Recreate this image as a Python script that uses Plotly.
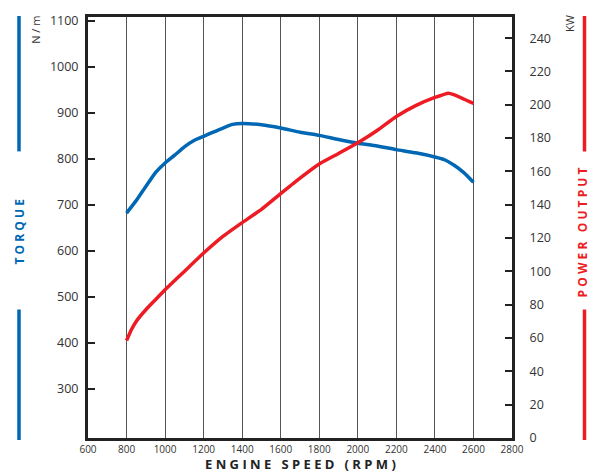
import plotly.graph_objects as go

rpm_torque = [800, 850, 900, 925, 950, 1000, 1050, 1100, 1150, 1200, 1250, 1300, 1350, 1400,
              1500, 1600, 1700, 1800, 1900, 2000, 2100, 2200, 2300, 2400, 2450, 2500, 2550, 2600]
torque_nm = [682, 709, 740, 755, 770, 791, 808, 826, 840, 849, 858, 867, 875, 877,
             874, 867, 858, 851, 842, 834, 828, 820, 813, 804, 798, 786, 770, 749]

rpm_power = [800, 825, 850, 900, 950, 1000, 1100, 1200, 1300, 1400, 1500, 1600, 1700,
             1800, 1900, 2000, 2100, 2200, 2300, 2400, 2470, 2500, 2600]
power_kw = [58.5, 65, 70, 77, 83, 89, 100, 111, 121, 129.3, 137.2, 146.7, 156,
            164.5, 170.8, 177.2, 184.6, 193, 199.5, 204.4, 207, 206, 200.9]

x_ticks = [600, 800, 1000, 1200, 1400, 1600, 1800, 2000, 2200, 2400, 2600, 2800]
torque_ticks = [300, 400, 500, 600, 700, 800, 900, 1000, 1100]
power_ticks = [0, 20, 40, 60, 80, 100, 120, 140, 160, 180, 200, 220, 240]

BLUE = "#0067b4"
RED = "#ed1c24"
FONT = "Open Sans"

fig = go.Figure()
fig.add_trace(go.Scatter(x=rpm_torque, y=torque_nm, mode="lines",
                         line=dict(color=BLUE, width=3.5, shape="spline", smoothing=0.5),
                         yaxis="y", showlegend=False))
fig.add_trace(go.Scatter(x=rpm_power, y=power_kw, mode="lines",
                         line=dict(color=RED, width=3.5, shape="spline", smoothing=0.5),
                         yaxis="y2", showlegend=False))

fig.update_layout(
    width=592, height=472,
    margin=dict(l=88, r=80, t=12, b=34),
    paper_bgcolor="white", plot_bgcolor="white",
    font=dict(family=FONT, color="#333333"),
    xaxis=dict(range=[600, 2800], tickvals=x_ticks, ticktext=[str(v) for v in x_ticks],
               showgrid=True, gridcolor="#555555", gridwidth=1.2,
               showline=True, linecolor="#222222", linewidth=3, mirror=True,
               ticks="", tickfont=dict(size=10, color="#333333"), zeroline=False,
               ticklabelstandoff=0),
    yaxis=dict(range=[192.5, 1108.6], tickvals=torque_ticks,
               showgrid=False, zeroline=False,
               showline=True, linecolor="#222222", linewidth=3, mirror=True,
               ticks="inside", ticklen=7, tickwidth=1.5, tickcolor="#222222",
               tickfont=dict(size=12.5, color="#333333"), ticklabelstandoff=4),
    yaxis2=dict(range=[0, 252.7], tickvals=power_ticks, overlaying="y", side="right",
                showgrid=False, zeroline=False,
                showline=True, linecolor="#222222", linewidth=3,
                ticks="inside", ticklen=7, tickwidth=1.5, tickcolor="#222222",
                tickfont=dict(size=12.5, color="#333333"), ticklabelstandoff=12),
)

def px_x(px):
    return (px - 88) / 424.0

def px_y(py):
    return (438 - py) / 426.0

shapes = []
for (x, col) in [(19, BLUE), (584.5, RED)]:
    for (y0, y1) in [(11, 148), (308, 440)]:
        shapes.append(dict(type="line", xref="paper", yref="paper",
                           x0=px_x(x), x1=px_x(x), y0=px_y(y1), y1=px_y(y0),
                           line=dict(color=col, width=3.5)))
fig.update_layout(shapes=shapes)

annotations = [
    dict(text="<b>T O R Q U E</b>", x=px_x(19), y=px_y(229), textangle=-90,
         font=dict(size=12, color=BLUE, family=FONT)),
    dict(text="<b>P O W E R   O U T P U T</b>", x=px_x(582), y=px_y(230), textangle=-90,
         font=dict(size=12, color=RED, family=FONT)),
    dict(text="N / m", x=px_x(36), y=px_y(25), textangle=-90,
         font=dict(size=11, color="#333333", family=FONT)),
    dict(text="KW", x=px_x(570), y=px_y(19), textangle=-90,
         font=dict(size=11, color="#333333", family=FONT)),
    dict(text="<b>E N G I N E   S P E E D   ( R P M )</b>", x=px_x(300), y=px_y(464),
         height=15, font=dict(size=13, color="#222222", family=FONT)),
]
for a in annotations:
    a.update(xref="paper", yref="paper", showarrow=False, xanchor="center", yanchor="middle")
fig.update_layout(annotations=annotations)

fig.write_html("out.html", config={"displayModeBar": False},
               post_script="document.body.style.margin='0px';document.body.style.padding='0px';")
